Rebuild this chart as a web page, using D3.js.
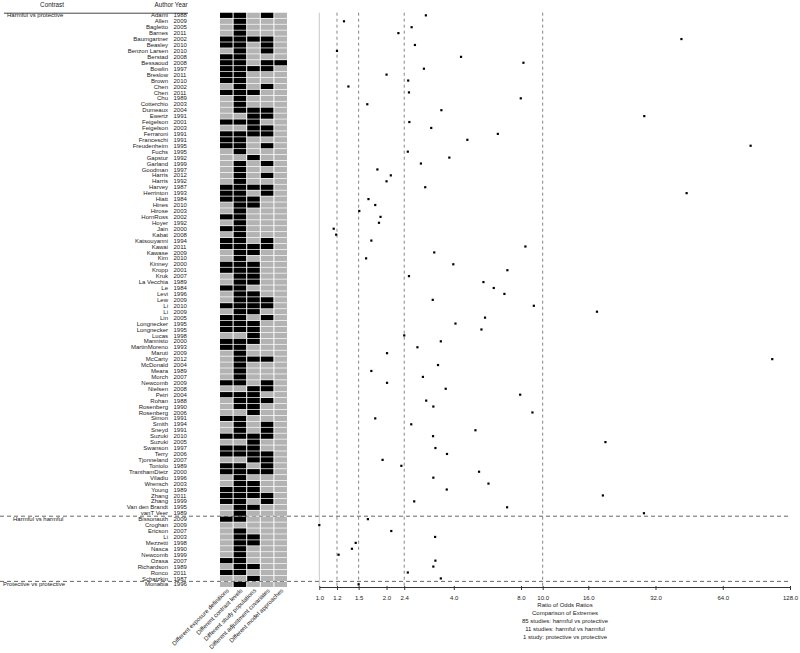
<!DOCTYPE html>
<html><head><meta charset="utf-8">
<script src="https://cdn.jsdelivr.net/npm/d3@7"></script>
<style>body{margin:0;background:#fff}svg{display:block;font-family:"Liberation Sans",Arial,sans-serif}</style>
</head><body><svg id="c" width="800" height="653"></svg>
<script>
const authors = ["Adami","Allen","Bagletto","Barnes","Baumgartner","Beasley","Benzon Larsen","Berstad","Bessaoud","Bowlin","Breslow","Brown","Chen","Chen","Chu","Cotterchio","Dumeaux","Ewertz","Feigelson","Feigelson","Ferraroni","Franceschi","Freudenheim","Fuchs","Gapstur","Garland","Goodman","Harris","Harris","Harvey","Herrinton","Hiatt","Hines","Hirose","HornRoss","Hoyer","Jain","Kabat","Katsouyanni","Kawai","Kawase","Kim","Kinney","Kropp","Kruk","La Vecchia","Le","Levi","Lew","Li","Li","Lin","Longnecker","Longnecker","Lucas","Mannisto","MartinMoreno","Maruti","McCarty","McDonald","Meara","Morch","Newcomb","Nielsen","Petri","Rohan","Rosenberg","Rosenberg","Simon","Smith","Sneyd","Suzuki","Suzuki","Swanson","Terry","Tjonneland","Toniolo","TranthamDietz","Viladiu","Wrensch","Young","Zhang","Zhang","Van den Brandt","vanT Veer","Bissonauth","Croghan","Ericson","Li","Mezzetti","Nasca","Newcomb","Ozasa","Richardson","Ronco","Schatzkin","Monabia"];
const years = [1988,2009,2005,2011,2002,2010,2010,2008,2008,1997,2011,2010,2002,2011,1989,2003,2004,1991,2001,2003,1991,1991,1995,1995,1992,1999,1997,2012,1992,1987,1993,1984,2010,2003,2002,1992,2000,2008,1994,2011,2009,2010,2000,2001,2007,1989,1984,1996,2009,2010,2009,2005,1995,1995,1998,2000,1993,2009,2012,2004,1989,2007,2009,2008,2004,1988,1990,2006,1991,1994,1991,2010,2005,1997,2006,2007,1989,2000,1996,2003,1989,2011,1999,1995,1989,2009,2009,2007,2003,1998,1990,1999,2007,1989,2011,1987,1996];
const ratioOR = [3.0,1.29,2.59,2.26,41.8,2.68,1.2,4.31,8.2,2.94,2.0,2.5,1.35,2.52,7.98,1.64,3.52,28.5,2.53,3.17,6.3,4.6,85.3,2.49,3.82,2.85,1.82,2.09,2.0,2.98,44.1,1.66,1.78,1.51,1.88,1.85,1.16,1.19,1.71,8.37,3.27,1.62,3.98,6.95,2.52,5.43,6.04,6.74,3.22,9.13,17.5,5.52,4.07,5.32,2.4,3.5,2.75,2.01,106.6,3.4,1.71,2.91,2.01,3.68,7.93,3.01,3.24,9.0,1.78,2.58,5.0,3.23,19.1,3.31,3.73,1.92,2.33,5.19,3.24,5.72,3.72,18.6,2.66,6.93,28.4,1.65,1.0,2.1,3.3,1.455,1.4,1.22,3.31,3.24,2.49,3.5,1.5];
// 1 = differs (black), 0 = same (gray); columns in order of criteria
const flags = ["11010","01000","01000","01000","11110","11010","01010","11000","11011","11110","11000","11000","01010","11100","01000","01000","01110","00110","11100","00110","11110","11000","11010","01000","00100","01010","01000","01010","01000","11110","11010","11100","01100","01000","11000","01000","11000","01000","11010","11110","01100","01000","11100","11100","01100","01100","11000","01100","01110","11110","01100","11010","11100","11100","00100","11100","11000","01000","01110","01000","01000","01000","11010","00110","11100","01110","01100","00100","11000","01010","01010","11110","00100","11100","11110","00110","11010","11110","01000","01100","11100","11110","11010","01100","01000","11000","00000","01000","01100","01100","01000","01000","11000","01100","11000","00100","01000"];
const criteria = ["Different exposure definitions","Different contrast levels","Different study populations","Different adjustment covariates","Different model approaches"];
const groupLabels = ["Harmful vs protective","Harmful vs harmful","Protective vs protective"];
const groupCounts = [85,11,1];
const groupLabelX = [7,13,3];
const refLines = [1.2,1.5,2.4,10];
const tickValues = [1,1.2,1.5,2,2.4,4,8,10,16,32,64,128];
const footer = ["Ratio of Odds Ratios","Comparison of Extremes","85 studies: harmful vs protective","11 studies: harmful vs harmful","1 study: protective vs protective"];

const svg = d3.select("#c");
const n = authors.length;
const y = d3.scaleBand().domain(d3.range(n)).range([12.74, 586.96]).paddingInner(0.12);
const yc = i => y(i) + y.bandwidth()/2;
const x = d3.scaleLog().base(2).domain([1,128]).range([319.3, 790]);
const gx = d3.scaleBand().domain(criteria).range([220, 287]).paddingInner(0.074);
const axisY = 587;

// group boundaries
const starts = []; let acc = 0;
groupCounts.forEach(c => { starts.push(acc); acc += c; });
starts.slice(1).forEach(s => {
  svg.append("line").attr("x1",0).attr("x2",x(128)).attr("y1",y(s)-y.step()*0.06).attr("y2",y(s)-y.step()*0.06)
    .attr("stroke","#555").attr("stroke-width",0.9).attr("stroke-dasharray","4,3");
});

// header
svg.append("text").attr("x",52).attr("y",7).attr("text-anchor","middle").attr("font-size",6.3).attr("fill","#222").text("Contrast");
svg.append("text").attr("x",187.5).attr("y",7).attr("text-anchor","end").attr("font-size",6.3).attr("fill","#222").text("Author Year");
svg.append("line").attr("x1",4).attr("x2",188).attr("y1",13.2).attr("y2",13.2).attr("stroke","#444").attr("stroke-width",1);

// group labels
starts.forEach((s,k) => {
  svg.append("text").attr("x",groupLabelX[k]).attr("y",yc(s)+2.1).attr("font-size",6).attr("fill","#222").text(groupLabels[k]);
});

// author and year
const rows = svg.append("g");
rows.selectAll("text.a").data(authors).join("text").attr("class","a")
  .attr("x",168).attr("y",(d,i)=>yc(i)+2.1).attr("text-anchor","end").attr("font-size",6).attr("fill","#222").text(d=>d);
rows.selectAll("text.yr").data(years).join("text").attr("class","yr")
  .attr("x",173.5).attr("y",(d,i)=>yc(i)+2.1).attr("font-size",6).attr("fill","#222").text(d=>d);

// grid
const cells = [];
flags.forEach((f,i) => criteria.forEach((c,j) => cells.push({i, c, v: f[j]==="1"})));
svg.append("g").selectAll("rect").data(cells).join("rect")
  .attr("x",d=>gx(d.c)).attr("y",d=>y(d.i)).attr("width",gx.bandwidth()).attr("height",y.bandwidth())
  .attr("fill",d=>d.v ? "#000" : "#b3b3b3");

// criteria labels
svg.append("g").selectAll("text").data(criteria).join("text")
  .attr("transform",d=>`translate(${gx(d)+gx.bandwidth()/2+3},${591}) rotate(-45)`)
  .attr("text-anchor","end").attr("font-size",6).attr("fill","#222").text(d=>d);

// reference lines
svg.append("line").attr("x1",x(1)).attr("x2",x(1)).attr("y1",12.7).attr("y2",axisY).attr("stroke","#c8c8c8").attr("stroke-width",1);
svg.append("g").selectAll("line").data(refLines).join("line")
  .attr("x1",d=>x(d)).attr("x2",d=>x(d)).attr("y1",12.7).attr("y2",axisY)
  .attr("stroke","#777").attr("stroke-width",0.9).attr("stroke-dasharray","3,3");

// points
svg.append("g").selectAll("rect").data(ratioOR).join("rect")
  .attr("x",d=>x(d)-1.1).attr("y",(d,i)=>yc(i)-1.1).attr("width",2.2).attr("height",2.2).attr("fill","#000");

// axis
const ax = svg.append("g").attr("transform",`translate(0,${axisY})`)
  .call(d3.axisBottom(x).tickValues(tickValues).tickFormat(d3.format(".1f")).tickSize(3).tickSizeOuter(0));
ax.select(".domain").attr("stroke","#333").attr("stroke-width",1.2);
ax.selectAll(".tick line").attr("stroke","#333").attr("y1",-1);
ax.selectAll(".tick text").attr("font-size",6).attr("fill","#222").attr("dy",0).attr("y",13).attr("font-family","Liberation Sans, Arial, sans-serif");

svg.append("g").selectAll("text").data(footer).join("text")
  .attr("x",565).attr("y",(d,i)=>606.5+i*8.05).attr("text-anchor","middle").attr("font-size",6).attr("fill","#222").text(d=>d);
</script></body></html>
